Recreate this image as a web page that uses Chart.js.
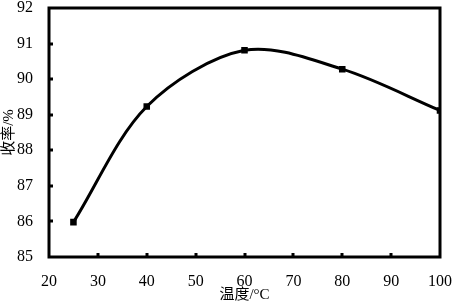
<!DOCTYPE html>
<html>
<head>
<meta charset="utf-8">
<script src="https://cdn.jsdelivr.net/npm/chart.js@4.4.1/dist/chart.umd.min.js"></script>
<style>
  html, body { margin: 0; padding: 0; background: #fff; }
</style>
</head>
<body>
<canvas id="chart" width="452" height="301"></canvas>
<script>
// data
const temps = [25, 40, 60, 80, 100];
const yields = [85.98, 89.23, 90.81, 90.28, 89.12];
const xTicks = [20, 30, 40, 50, 60, 70, 80, 90, 100];
const yTicks = [85, 86, 87, 88, 89, 90, 91, 92];

const FONT = '"Liberation Serif", "Times New Roman", "Noto Sans CJK SC", serif';

// box round the plot area plus inward tick marks
const frame = {
    id: 'frame',
    afterDraw(chart) {
        const a = chart.chartArea;
        const ctx = chart.ctx;
        const xs = chart.scales.x, ys = chart.scales.y;
        ctx.save();
        ctx.strokeStyle = '#000';
        ctx.lineWidth = 3;
        ctx.strokeRect(a.left, a.top, a.right - a.left, a.bottom - a.top);
        ctx.beginPath();
        xTicks.slice(1, -1).forEach(v => {
            const px = Math.round(xs.getPixelForValue(v));
            ctx.moveTo(px, a.bottom);
            ctx.lineTo(px, a.bottom - 4);
        });
        yTicks.slice(1, -1).forEach(v => {
            const py = Math.round(ys.getPixelForValue(v));
            ctx.moveTo(a.left, py);
            ctx.lineTo(a.left + 4, py);
        });
        ctx.stroke();
        ctx.restore();
    }
};

const chart = new Chart(document.querySelector('#chart'), {
    type: 'line',
    data: {
        datasets: [{
            label: '',
            data: temps.map((t, i) => ({ x: t, y: yields[i] })),
            borderColor: '#000',
            backgroundColor: '#000',
            borderWidth: 3,
            tension: 0.32,
            pointStyle: 'rect',
            pointRadius: 2.5,
            fill: false,
        }]
    },
    options: {
        responsive: false,
        animation: false,
        layout: { padding: { top: 8, right: 12, left: 0, bottom: 0 } },
        scales: {
            x: {
                type: 'linear',
                min: 20,
                max: 100,
                afterBuildTicks: (s) => { s.ticks = xTicks.map(v => ({ value: v })); },
                afterFit: (s) => { s.height = 44; s.paddingLeft = 0; s.paddingRight = 0; },
                border: { display: false },
                grid: { display: false },
                ticks: { color: '#000', padding: 7, maxRotation: 0, font: { family: FONT, size: 16 } },
                title: {
                    display: true,
                    text: '温度/°C',
                    color: '#000',
                    padding: { top: 0, bottom: -3 },
                    font: { family: FONT, size: 15 }
                }
            },
            y: {
                min: 85,
                max: 92,
                afterBuildTicks: (s) => { s.ticks = yTicks.map(v => ({ value: v })); },
                afterFit: (s) => { s.width = 49; s.paddingTop = 0; s.paddingBottom = 0; },
                border: { display: false },
                grid: { display: false },
                ticks: { color: '#000', padding: 8, font: { family: FONT, size: 16 } },
                title: {
                    display: true,
                    text: '收率/%',
                    color: '#000',
                    padding: 0,
                    font: { family: FONT, size: 15 }
                }
            }
        },
        plugins: {
            legend: { display: false },
            tooltip: { enabled: false }
        }
    },
    plugins: [frame]
});
</script>
</body>
</html>
